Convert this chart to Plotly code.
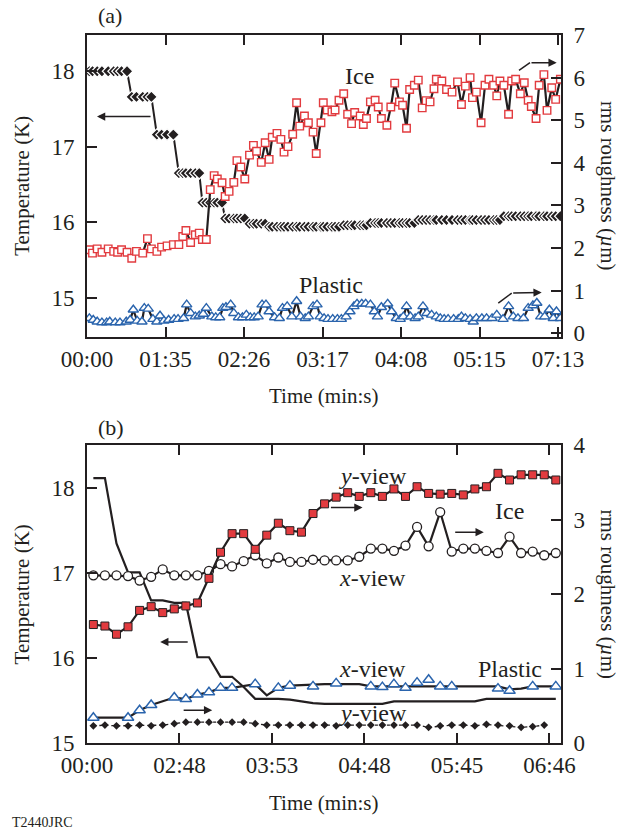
import plotly.graph_objects as go
import numpy as np

# ---------------- Panel (a) data ----------------
a_tickvals = [0, 10, 20, 30, 40, 50, 60]
a_ticktext = ["00:00", "01:35", "02:26", "03:17", "04:08", "05:15", "07:13"]

# Ice roughness (right axis, um) and sample positions (tick units x10)
ice_a_x = [0.3, 0.7, 1.3, 1.9, 2.7, 3.4, 3.9, 4.4, 5.1, 5.7, 6.3, 7.1, 7.7, 8.2, 8.9, 9.5, 10.2, 11.0, 11.7, 12.2,
           12.6, 13.2, 13.8, 14.3, 14.7, 15.2,
           15.7, 16.2, 16.6, 17.2, 17.6, 18.1, 18.7, 19.1, 19.6, 20.1, 20.7, 21.2, 21.6, 22.2, 22.7, 23.2, 23.6, 24.2,
           24.7, 25.1, 25.6, 26.2, 26.7, 27.1, 27.7, 28.2, 28.8, 29.2, 29.8, 30.1, 30.6,
           31.2, 31.6, 32.1, 32.7, 33.2, 33.7, 34.1, 34.8, 35.2, 35.6, 36.1, 36.7, 37.1, 37.5, 38.2, 38.7, 39.2, 39.8,
           40.2, 40.7, 41.1, 41.7, 42.2, 42.7, 43.2, 43.7, 44.2, 44.5, 45.2, 45.8, 46.5, 47.2, 47.7, 48.2, 48.8, 49.1,
           49.6, 50.2, 50.7, 51.2, 51.8, 52.2, 52.6, 53.1, 53.7, 54.1, 54.6, 55.2, 55.7, 56.2, 56.6, 57.2, 57.6, 58.2,
           58.6, 59.2, 59.7, 60.3]
ice_a = [1.96, 1.88, 1.98, 1.90, 1.98, 1.92, 1.90, 1.96, 1.90, 1.76, 1.92, 1.88, 2.22, 1.98, 1.92, 2.02, 2.05, 2.08,
         2.08, 2.27, 2.41, 2.13, 2.31, 2.35, 2.20, 2.20,
         3.37, 3.70, 3.62, 3.53, 3.21, 3.33, 3.54, 4.05, 3.90, 3.62, 4.18, 4.41, 4.27, 4.01, 4.47, 4.08, 4.60, 4.69,
         4.55, 4.25, 4.38, 4.67, 5.41, 4.86, 5.10, 4.94, 4.72, 4.22, 4.94, 5.41, 5.24,
         5.20, 5.24, 5.47, 5.62, 5.14, 4.92, 5.18, 5.10, 4.90, 5.04, 5.43, 5.47, 5.31, 5.04, 4.88, 5.31, 5.87, 5.43,
         5.35, 4.81, 5.72, 5.82, 5.94, 5.29, 5.46, 5.43, 5.74, 5.96, 5.92, 5.72, 5.66, 5.90, 5.37, 5.80, 6.00, 5.53,
         5.66, 4.94, 5.82, 5.96, 5.82, 5.57, 5.92, 5.82, 5.14, 5.92, 5.96, 5.62, 5.88, 5.47, 5.32, 5.04, 5.82, 6.07,
         5.23, 5.76, 5.49, 5.96]

# Temperature (left axis, K) at the same samples
temp_a = [18.00, 18.00, 18.00, 18.00, 18.00, 18.00, 18.00, 18.00, 18.00,
          17.66, 17.66, 17.66, 17.66, 17.66,
          17.16, 17.16, 17.16, 17.16,
          16.65, 16.65, 16.65, 16.65, 16.65, 16.65,
          16.26, 16.26, 16.26, 16.26, 16.26, 16.26,
          16.05, 16.05, 16.05, 16.05, 16.05, 16.05,
          15.98, 15.98, 15.98, 15.98, 15.98,
          15.94, 15.94, 15.94, 15.94, 15.94, 15.94, 15.94, 15.94, 15.94, 15.94, 15.94, 15.94, 15.94, 15.94, 15.94,
          15.94, 15.94, 15.94, 15.94,
          15.96, 15.96, 15.96, 15.96, 15.96, 15.96, 15.96,
          15.99, 15.99, 15.99, 15.99, 15.99, 15.99, 15.99, 15.99, 15.99, 15.99, 15.99, 15.99,
          16.03, 16.03, 16.03, 16.03, 16.03, 16.03, 16.03, 16.03, 16.03, 16.03, 16.03, 16.03, 16.03, 16.03, 16.03,
          16.03, 16.03, 16.03, 16.03, 16.03, 16.03,
          16.08, 16.08, 16.08, 16.08, 16.08, 16.08, 16.08, 16.08, 16.08, 16.08, 16.08, 16.08, 16.08, 16.08, 16.08]

# Plastic roughness (right axis, um)
pla_a_x = [0.3, 0.8, 1.3, 1.9, 2.5, 2.9, 3.6, 4.2, 5.0, 5.5, 5.9, 6.4, 7.0, 7.3, 7.8, 8.4, 8.9, 9.3, 9.8, 10.4,
           11.1, 11.6, 12.3, 12.7, 13.2, 13.8, 14.3, 14.8, 15.2, 15.9, 16.4, 16.9, 17.3, 17.7, 18.3, 18.7, 19.3,
           19.8, 20.3, 20.8, 21.3, 21.8, 22.3, 22.8, 23.2, 23.9, 24.5, 24.9, 25.5, 26.1, 26.7, 27.2, 27.8, 28.2,
           28.8, 29.3,
           29.7, 30.2, 30.7, 31.3, 31.9, 32.4, 33.0, 33.5, 34.0, 34.4, 35.0, 35.5, 36.1, 36.6, 37.0, 37.5, 38.3,
           38.8, 39.4, 39.9, 40.3, 40.7, 41.2, 41.8, 42.2, 42.8, 43.3, 43.9, 44.5, 45.0, 45.5, 46.0, 46.7, 47.3,
           47.7, 48.2, 48.8, 49.2, 49.6, 50.3, 50.9, 51.6, 52.2, 53.0, 53.7, 54.3, 54.9, 55.6, 56.2, 56.8, 57.3,
           57.8, 58.3, 58.9, 59.4, 59.8, 60.3]
pla_a = [0.35, 0.31, 0.27, 0.25, 0.25, 0.27, 0.25, 0.25, 0.27, 0.31, 0.55, 0.29, 0.27, 0.59, 0.57, 0.33, 0.27, 0.41,
         0.29, 0.31, 0.33, 0.33, 0.35, 0.67, 0.47, 0.39, 0.41, 0.45, 0.59, 0.39, 0.37, 0.37, 0.59, 0.61, 0.67, 0.47,
         0.37, 0.37, 0.43, 0.37, 0.37, 0.39, 0.67, 0.67, 0.51, 0.37, 0.35, 0.59, 0.63, 0.39, 0.75, 0.39, 0.35, 0.39,
         0.63, 0.67,
         0.39, 0.35, 0.33, 0.33, 0.33, 0.33, 0.39, 0.51, 0.63, 0.69, 0.69, 0.69, 0.67, 0.51, 0.39, 0.61, 0.69, 0.51,
         0.35, 0.33, 0.39, 0.63, 0.39, 0.35, 0.39, 0.63, 0.47, 0.43, 0.39, 0.35, 0.33, 0.33, 0.33, 0.33, 0.39, 0.35,
         0.33, 0.27, 0.35, 0.35, 0.35, 0.35, 0.43, 0.33, 0.63, 0.39, 0.35, 0.35, 0.59, 0.65, 0.71, 0.39, 0.39, 0.55,
         0.35, 0.51, 0.35]

# ---------------- Panel (b) data ----------------
b_tickvals = [0, 8, 16, 24, 32, 40]
b_ticktext = ["00:00", "02:48", "03:53", "04:48", "05:45", "06:46"]
b_scan = np.arange(41) + 0.55

ice_yview = [1.59, 1.57, 1.46, 1.56, 1.78, 1.83, 1.75, 1.80, 1.84, 1.88,
             2.21, 2.56, 2.81, 2.81, 2.60, 2.79, 2.95, 2.85, 2.83, 3.08,
             3.21, 3.30, 3.36, 3.31, 3.36, 3.31, 3.41, 3.31, 3.44, 3.35,
             3.34, 3.35, 3.33, 3.41, 3.44, 3.62, 3.53, 3.60, 3.60, 3.60, 3.53]
ice_xview = [2.25, 2.25, 2.25, 2.24, 2.18, 2.23, 2.33, 2.25, 2.25, 2.25,
             2.31, 2.40, 2.37, 2.44, 2.52, 2.41, 2.49, 2.43, 2.43, 2.46,
             2.45, 2.45, 2.45, 2.50, 2.61, 2.61, 2.58, 2.65, 2.90, 2.64,
             3.10, 2.57, 2.61, 2.61, 2.58, 2.55, 2.77, 2.55, 2.57, 2.52, 2.55]
temp_b = [18.12, 18.12, 17.35, 17.01, 17.01, 16.68, 16.68, 16.65, 16.65, 16.01,
          16.01, 15.78, 15.78, 15.66, 15.52, 15.52, 15.52, 15.51, 15.49, 15.47,
          15.46, 15.46, 15.46, 15.46, 15.46, 15.46, 15.49, 15.49, 15.49, 15.49,
          15.49, 15.49, 15.49, 15.49, 15.52, 15.52, 15.52, 15.52, 15.52, 15.52, 15.52]
pla_xview_line = [0.34, 0.34, 0.34, 0.34, 0.44, 0.51, 0.56, 0.61, 0.59, 0.65,
                  0.68, 0.74, 0.74, 0.77, 0.79, 0.64, 0.74, 0.77, 0.78, 0.78,
                  0.79, 0.79, 0.79, 0.79, 0.76, 0.76, 0.76, 0.76, 0.76, 0.76,
                  0.76, 0.76, 0.76, 0.76, 0.76, 0.76, 0.72, 0.73, 0.76, 0.76, 0.76]
pla_tri_idx = [0, 3, 4, 5, 7, 8, 9, 10, 11, 12, 14, 16, 17, 19, 21, 24, 25, 26, 27, 28, 29, 30, 31, 35, 36, 38, 40]
pla_tri = [0.34, 0.34, 0.44, 0.51, 0.61, 0.59, 0.65, 0.68, 0.74, 0.74, 0.79, 0.74, 0.77, 0.76, 0.80, 0.76, 0.75,
           0.79, 0.74, 0.81, 0.85, 0.76, 0.76, 0.73, 0.70, 0.76, 0.76]
pla_yview = [0.23, 0.24, 0.23, 0.23, 0.24, 0.23, 0.24, 0.26, 0.28, 0.28,
             0.28, 0.28, 0.28, 0.28, 0.26, 0.24, 0.24, 0.24, 0.24, 0.24,
             0.24, 0.23, 0.24, 0.24, 0.24, 0.24, 0.24, 0.24, 0.24, 0.21,
             0.23, 0.24, 0.24, 0.23, 0.25, 0.24, 0.23, 0.21, 0.22, 0.24]

# ---------------- styling ----------------
FONT = "Liberation Serif"
INK = "#231f20"
RED = "#e23b3f"
BLUE = "#2a64ad"

fig = go.Figure()

# Panel (a)
fig.add_trace(go.Scatter(x=ice_a_x, y=temp_a, xaxis="x", yaxis="y", mode="lines+markers",
                         line=dict(color=INK, width=2),
                         marker=dict(symbol="diamond", size=9, color=INK, line=dict(color="white", width=1.2))))
fig.add_trace(go.Scatter(x=ice_a_x, y=ice_a, xaxis="x", yaxis="y2", mode="lines+markers",
                         line=dict(color=INK, width=2.2),
                         marker=dict(symbol="square", size=7.5, color="white", line=dict(color=RED, width=1.4))))
fig.add_trace(go.Scatter(x=pla_a_x, y=pla_a, xaxis="x", yaxis="y2", mode="lines+markers",
                         line=dict(color=INK, width=2.2),
                         marker=dict(symbol="triangle-up", size=9, color="white", line=dict(color=BLUE, width=1.4))))

# Panel (b)
fig.add_trace(go.Scatter(x=b_scan, y=temp_b, xaxis="x2", yaxis="y3", mode="lines",
                         line=dict(color=INK, width=2.2)))
fig.add_trace(go.Scatter(x=b_scan, y=pla_xview_line, xaxis="x2", yaxis="y4", mode="lines",
                         line=dict(color=INK, width=2.2)))
fig.add_trace(go.Scatter(x=b_scan[:40], y=pla_yview, xaxis="x2", yaxis="y4", mode="lines+markers",
                         line=dict(color=INK, width=1.3, dash="dot"),
                         marker=dict(symbol="diamond", size=6, color=INK)))
fig.add_trace(go.Scatter(x=b_scan[pla_tri_idx], y=pla_tri, xaxis="x2", yaxis="y4", mode="markers",
                         marker=dict(symbol="triangle-up", size=10, color="white", line=dict(color=BLUE, width=1.5))))
fig.add_trace(go.Scatter(x=b_scan, y=ice_xview, xaxis="x2", yaxis="y4", mode="lines+markers",
                         line=dict(color=INK, width=2.2),
                         marker=dict(symbol="circle", size=9, color="white", line=dict(color=INK, width=1.3))))
fig.add_trace(go.Scatter(x=b_scan, y=ice_yview, xaxis="x2", yaxis="y4", mode="lines+markers",
                         line=dict(color=INK, width=2.2),
                         marker=dict(symbol="square", size=8, color=RED, line=dict(color=INK, width=1))))

tickfont = dict(family=FONT, size=23, color=INK)
common_x = dict(showline=True, linewidth=2, linecolor=INK, mirror="ticks", ticks="inside", ticklen=10,
                tickwidth=1.5, tickcolor=INK, showgrid=False, zeroline=False, tickfont=tickfont)
common_y = dict(showline=True, linewidth=2, linecolor=INK, ticks="inside", ticklen=10, tickwidth=1.5,
                tickcolor=INK, showgrid=False, zeroline=False, tickfont=tickfont, ticklabelstandoff=6)

dom_a = [0.5734, 1.0]
dom_b = [0.0, 0.4209]

fig.update_layout(
    width=634, height=831,
    margin=dict(l=87, r=73, t=35, b=88),
    paper_bgcolor="white", plot_bgcolor="white",
    showlegend=False,
    font=dict(family=FONT, size=20, color=INK),
    xaxis=dict(domain=[0, 1], anchor="y", range=[0, 60.38], tickvals=a_tickvals, ticktext=a_ticktext, **common_x),
    yaxis=dict(domain=dom_a, anchor="x", range=[14.48, 18.48], tickvals=[15, 16, 17, 18], **common_y),
    yaxis2=dict(overlaying="y", side="right", anchor="x", range=[-0.09, 7.0], tickvals=list(range(8)), **common_y),
    xaxis2=dict(domain=[0, 1], anchor="y3", range=[0, 41.0], tickvals=b_tickvals, ticktext=b_ticktext, **common_x),
    yaxis3=dict(domain=dom_b, anchor="x2", range=[15.0, 18.51], tickvals=[15, 16, 17, 18], **common_y),
    yaxis4=dict(overlaying="y3", side="right", anchor="x2", range=[0, 4.0], tickvals=[0, 1, 2, 3, 4], **common_y),
)

ann = []
def txt(x, y, s, xref, yref, size=22, **kw):
    ann.append(dict(x=x, y=y, text=s, xref=xref, yref=yref, showarrow=False, xanchor=kw.pop("xanchor", "center"),
                    yanchor="middle", font=dict(family=FONT, size=size, color=INK), **kw))

def arrow(x0, y0, x1, y1, xref, yref):
    ann.append(dict(x=x1, y=y1, ax=x0, ay=y0, xref=xref, yref=yref, axref=xref, ayref=yref,
                    text="", showarrow=True, arrowhead=2, arrowsize=1.1, arrowwidth=1.5, arrowcolor=INK))

# panel labels & titles
txt(0.0485, 1.028, "(a)", "paper", "paper", size=22)
txt(0.0506, 0.445, "(b)", "paper", "paper", size=22)
txt(0.5, 0.490, "Time (min:s)", "paper", "paper", size=21)
txt(0.5, -0.0847, "Time (min:s)", "paper", "paper", size=21)
txt(-0.137, 0.787, "Temperature (K)", "paper", "paper", size=21, textangle=-90)
txt(-0.137, 0.21, "Temperature (K)", "paper", "paper", size=21, textangle=-90)
txt(1.099, 0.787, "rms roughness (<i>µ</i>m)", "paper", "paper", size=21, textangle=90)
txt(1.099, 0.21, "rms roughness (<i>µ</i>m)", "paper", "paper", size=21, textangle=90)
txt(-0.162, -0.1116, "T2440JRC", "paper", "paper", size=14, xanchor="left")

# panel (a) annotations
txt(34.65, 6.03, "Ice", "x", "y2", size=24)
txt(31.08, 1.14, "Plastic", "x", "y2", size=24)
arrow(8.28, 17.40, 1.27, 17.40, "x", "y")
arrow(56.43, 6.35, 59.83, 6.35, "x", "y2")
arrow(54.1, 0.94, 57.92, 0.955, "x", "y2")

# panel (b) annotations
txt(24.7, 3.59, "<i>y</i>-view", "x2", "y4", size=24)
txt(36.57, 3.12, "Ice", "x2", "y4", size=24)
txt(24.7, 2.21, "<i>x</i>-view", "x2", "y4", size=24)
txt(24.7, 1.0, "<i>x</i>-view", "x2", "y4", size=24)
txt(36.57, 1.0, "Plastic", "x2", "y4", size=24)
txt(24.7, 0.40, "<i>y</i>-view", "x2", "y4", size=24)
arrow(8.84, 16.19, 6.33, 16.19, "x2", "y3")
arrow(8.23, 0.44, 10.83, 0.44, "x2", "y4")
arrow(20.97, 3.16, 23.83, 3.16, "x2", "y4")
arrow(31.72, 2.83, 34.32, 2.83, "x2", "y4")

fig.update_layout(annotations=ann)

shapes = [
    dict(type="line", xref="x", yref="y2", x0=55.03, y0=6.17, x1=56.43, y1=6.35, line=dict(color=INK, width=1.5)),
    dict(type="line", xref="x", yref="y2", x0=52.39, y0=0.706, x1=54.1, y1=0.94, line=dict(color=INK, width=1.5)),
]
fig.update_layout(shapes=shapes)

fig.write_html("out.html")
